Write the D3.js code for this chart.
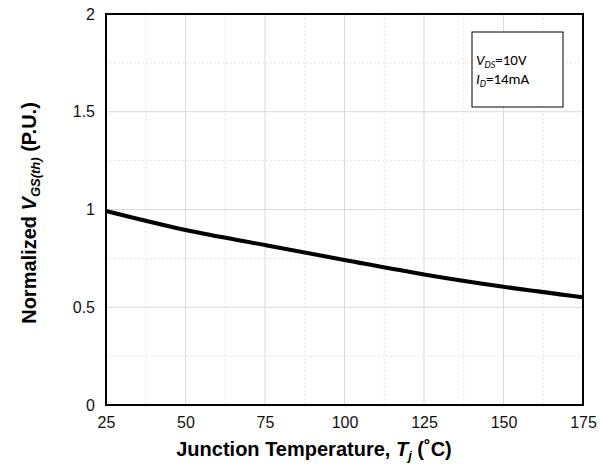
<!DOCTYPE html>
<html><head><meta charset="utf-8">
<script src="https://cdn.jsdelivr.net/npm/d3@7"></script>
<style>body{margin:0;background:#fff}</style>
</head><body>
<svg id="c" width="603" height="469"></svg>
<script>
const temps = [25, 50, 75, 100, 125, 150, 175];
const vgsNorm = [0.992, 0.895, 0.818, 0.742, 0.668, 0.605, 0.551];
const xTicks = [25, 50, 75, 100, 125, 150, 175];
const yTicks = [0, 0.5, 1, 1.5, 2];
const yTickLabels = ["0", "0.5", "1", "1.5", "2"];

const svg = d3.select("#c");
const m = {l:106, r:583, t:14, b:405};
const x = d3.scaleLinear().domain([25,175]).range([m.l, m.r]);
const y = d3.scaleLinear().domain([0,2]).range([m.b, m.t]);

// minor grid
const g = svg.append("g");
d3.range(37.5, 175, 25).forEach(v => g.append("line").attr("x1",x(v)).attr("x2",x(v)).attr("y1",m.t).attr("y2",m.b)
  .attr("stroke","#e4e4e4").attr("stroke-width",1).attr("stroke-dasharray","2,2"));
d3.range(0.25, 2, 0.5).forEach(v => g.append("line").attr("x1",m.l).attr("x2",m.r).attr("y1",y(v)).attr("y2",y(v))
  .attr("stroke","#e4e4e4").attr("stroke-width",1).attr("stroke-dasharray","2,2"));
// major grid
xTicks.forEach(v => g.append("line").attr("x1",x(v)).attr("x2",x(v)).attr("y1",m.t).attr("y2",m.b)
  .attr("stroke","#d9d9d9").attr("stroke-width",1));
yTicks.forEach(v => g.append("line").attr("x1",m.l).attr("x2",m.r).attr("y1",y(v)).attr("y2",y(v))
  .attr("stroke","#d9d9d9").attr("stroke-width",1));

// axes
const xAxis = d3.axisBottom(x).tickValues(xTicks).tickSize(0).tickPadding(12);
const yAxis = d3.axisLeft(y).tickValues(yTicks).tickSize(0).tickPadding(11)
  .tickFormat((d,i) => yTickLabels[i]);
const gx = svg.append("g").attr("transform",`translate(0,${m.b})`).call(xAxis);
const gy = svg.append("g").attr("transform",`translate(${m.l},0)`).call(yAxis);
[gx, gy].forEach(a => {
  a.select(".domain").remove();
  a.selectAll("text").attr("font-family","Liberation Sans, Arial, sans-serif").attr("font-size",16).attr("fill","#111");
});

// frame
svg.append("rect").attr("x",m.l).attr("y",m.t).attr("width",m.r-m.l).attr("height",m.b-m.t)
  .attr("fill","none").attr("stroke","#000").attr("stroke-width",2);

// curve
const line = d3.line().x((d,i)=>x(temps[i])).y(d=>y(d)).curve(d3.curveMonotoneX);
svg.append("path").datum(vgsNorm).attr("d",line).attr("fill","none").attr("stroke","#000").attr("stroke-width",4);

// legend box
svg.append("rect").attr("x",472).attr("y",32).attr("width",91).attr("height",75)
  .attr("fill","#fff").attr("stroke","#000").attr("stroke-width",1);
const lf = "Carlito, Liberation Sans Narrow, Liberation Sans, sans-serif";
const t1 = svg.append("text").attr("x",476).attr("y",65).attr("font-family",lf).attr("font-size",15).attr("fill","#000");
t1.append("tspan").attr("font-style","italic").text("V");
t1.append("tspan").attr("font-style","italic").attr("font-size",10).attr("dy",3).text("DS");
t1.append("tspan").attr("dy",-3).text("=10V");
const t2 = svg.append("text").attr("x",476).attr("y",84).attr("font-family",lf).attr("font-size",15).attr("fill","#000");
t2.append("tspan").attr("font-style","italic").text("I");
t2.append("tspan").attr("font-style","italic").attr("font-size",10).attr("dy",3).text("D");
t2.append("tspan").attr("dy",-3).text("=14mA");

// x title
const tf = "Liberation Sans, Arial, sans-serif";
const xt = svg.append("text").attr("x",314).attr("y",456).attr("text-anchor","middle")
  .attr("font-family",tf).attr("font-weight","bold").attr("font-size",20).attr("fill","#000");
xt.append("tspan").text("Junction Temperature, ");
xt.append("tspan").attr("font-style","italic").text("T");
xt.append("tspan").attr("font-style","italic").attr("font-size",13).attr("dy",4).text("j");
xt.append("tspan").attr("dy",-4).text(" (˚C)");

// y title
const yt = svg.append("text").attr("transform","translate(36,213) rotate(-90)").attr("text-anchor","middle")
  .attr("font-family",tf).attr("font-weight","bold").attr("font-size",20).attr("fill","#000");
yt.append("tspan").text("Normalized ");
yt.append("tspan").attr("font-style","italic").text("V");
yt.append("tspan").attr("font-style","italic").attr("font-size",13).attr("dy",4).text("GS(th)");
yt.append("tspan").attr("dy",-4).text(" (P.U.)");
</script>
</body></html>
